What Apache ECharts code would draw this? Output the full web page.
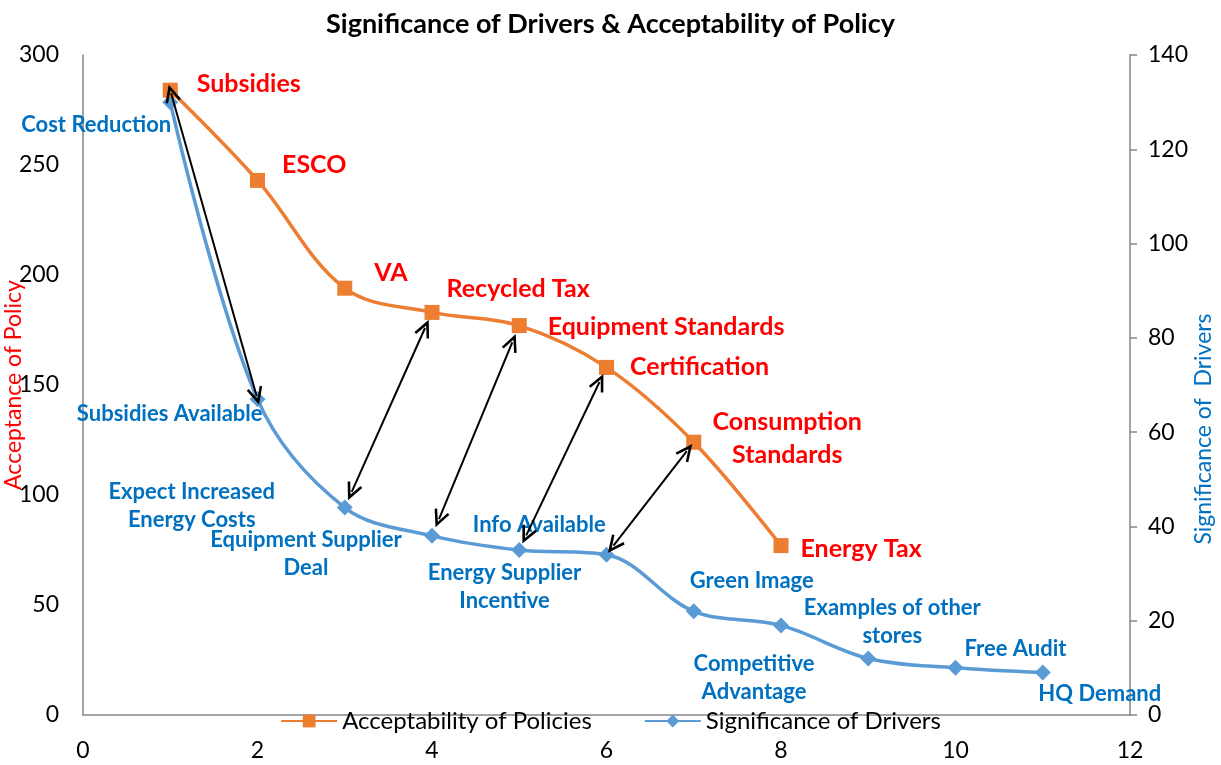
<!DOCTYPE html>
<html>
<head>
<meta charset="utf-8">
<script src="https://cdn.jsdelivr.net/npm/echarts@6/dist/echarts.min.js"></script>
<style>
  html, body { margin: 0; padding: 0; background: #fff; }
  #chart { width: 1221px; height: 765px; }
</style>
</head>
<body>
<div id="chart"></div>
<script>
// policies (left axis)
var policyX = [1, 2, 3, 4, 5, 6, 7, 8];
var policyValues = [284, 243, 194, 183, 177, 158, 124, 77];
var policyNames = ["Subsidies", "ESCO", "VA", "Recycled Tax", "Equipment Standards",
  "Certification", "Consumption\nStandards", "Energy Tax"];

// drivers (right axis)
var driverX = [1, 2, 3, 4, 5, 6, 7, 8, 9, 10, 11];
var driverValues = [130, 67, 44, 38, 35, 34, 22, 19, 12, 10, 9];
var driverNames = ["Cost Reduction", "Subsidies Available", "Expect Increased\nEnergy Costs",
  "Equipment Supplier\nDeal", "Info Available", "Energy Supplier\nIncentive", "Green Image",
  "Competitive\nAdvantage", "Examples of other\nstores", "Free Audit", "HQ Demand"];

// arrows: [policy index, driver index]
var arrowLinks = [[0, 1], [3, 2], [4, 3], [5, 4], [6, 5]];

var xTicks = [0, 2, 4, 6, 8, 10, 12];
var leftMax = 300, rightMax = 140;

// label placement (style only)
var policyLabelLayout = [
  { position: "right", offset: [14, -6] },
  { position: "right", offset: [12, -15] },
  { position: "right", offset: [17, -15] },
  { position: "right", offset: [2, -23] },
  { position: "right", offset: [16, 1] },
  { position: "right", offset: [11, 0] },
  { position: "right", align: "center", offset: [81, -4] },
  { position: "right", offset: [7, 3] }
];
var driverLabelLayout = [
  { position: "left", offset: [14, 23] },
  { position: "left", offset: [18, 15] },
  { position: "left", align: "center", offset: [-140, -2] },
  { position: "left", align: "center", offset: [-113, 18] },
  { position: "top", offset: [20, 2] },
  { position: "bottom", offset: [-102, -9] },
  { position: "top", offset: [58, -3] },
  { position: "bottom", offset: [-27, 11] },
  { position: "top", offset: [24, 4] },
  { position: "top", offset: [60, 8] },
  { position: "bottom", offset: [57, -6] }
];

var FONT = "Lato, 'Open Sans', sans-serif";

var policyData = policyX.map(function (x, i) {
  return {
    value: [x, policyValues[i]],
    name: policyNames[i],
    label: Object.assign({}, policyLabelLayout[i])
  };
});
var driverData = driverX.map(function (x, i) {
  return {
    value: [x, driverValues[i]],
    name: driverNames[i],
    label: Object.assign({}, driverLabelLayout[i])
  };
});

// arrows are drawn on the left axis, so driver values are rescaled
function trimPoint(a, b, t) {
  return [a[0] + (b[0] - a[0]) * t, a[1] + (b[1] - a[1]) * t];
}
var arrowData = arrowLinks.map(function (link, k) {
  var p = [policyX[link[0]], policyValues[link[0]]];
  var d = [driverX[link[1]], driverValues[link[1]] * leftMax / rightMax];
  var t = k === 0 ? 0.01 : 0.08;
  return [{ coord: trimPoint(d, p, t) }, { coord: trimPoint(p, d, t) }];
});

var chevron = "path://M0,0 L-7,15 L-5,16 L0,5.5 L5,16 L7,15 Z";

var chart = echarts.init(document.getElementById("chart"));
chart.setOption({
  animation: false,
  textStyle: { fontFamily: FONT },
  title: {
    text: "Significance of Drivers & Acceptability of Policy",
    left: "center",
    top: 6,
    textStyle: { fontFamily: FONT, fontSize: 27, fontWeight: "bold", color: "#000" }
  },
  legend: {
    bottom: 27,
    left: "center",
    itemWidth: 56,
    itemHeight: 16,
    itemGap: 52,
    textStyle: { fontFamily: FONT, fontSize: 24, color: "#000" },
    data: ["Acceptability of Policies", "Significance of Drivers"]
  },
  grid: { left: 83, right: 91, top: 55, bottom: 50, outerBoundsMode: "none" },
  xAxis: {
    type: "value",
    min: xTicks[0],
    max: xTicks[xTicks.length - 1],
    interval: 2,
    splitLine: { show: false },
    axisLine: { lineStyle: { color: "#868686", width: 1.5 } },
    axisTick: { show: false },
    axisLabel: { margin: 24, fontSize: 23, color: "#000", fontFamily: FONT }
  },
  yAxis: [
    {
      type: "value",
      min: 0,
      max: leftMax,
      interval: 50,
      name: "Acceptance of Policy",
      nameLocation: "middle",
      nameGap: 58,
      nameMoveOverlap: false,
      nameTextStyle: { color: "#ff0000", fontSize: 23, fontFamily: FONT },
      splitLine: { show: false },
      axisLine: { show: true, lineStyle: { color: "#868686", width: 1.5 } },
      axisTick: { show: false },
      axisLabel: { margin: 24, fontSize: 23, color: "#000", fontFamily: FONT }
    },
    {
      type: "value",
      min: 0,
      max: rightMax,
      interval: 20,
      position: "right",
      name: "Significance of  Drivers",
      nameLocation: "middle",
      nameGap: 62,
      nameMoveOverlap: false,
      nameTextStyle: { color: "#0070c0", fontSize: 23, fontFamily: FONT, padding: [0, 88, 0, 0] },
      splitLine: { show: false },
      axisLine: { show: true, lineStyle: { color: "#868686", width: 1.5 } },
      axisTick: { show: true, length: 7, lineStyle: { color: "#868686", width: 1.5 } },
      axisLabel: { margin: 18, fontSize: 23, color: "#000", fontFamily: FONT }
    }
  ],
  series: [
    {
      name: "Acceptability of Policies",
      type: "line",
      yAxisIndex: 0,
      smooth: 0.35,
      symbol: "rect",
      symbolSize: 15,
      color: "#ed7d31",
      lineStyle: { width: 3.5, color: "#ed7d31" },
      itemStyle: { color: "#ed7d31" },
      label: {
        show: true,
        formatter: "{b}",
        color: "#ff0000",
        fontSize: 25,
        fontWeight: "bold",
        fontFamily: FONT,
        lineHeight: 33
      },
      data: policyData,
      markLine: {
        silent: true,
        symbol: [chevron, chevron],
        symbolSize: [16, 18],
        label: { show: false },
        lineStyle: { color: "#000", width: 2, type: "solid" },
        emphasis: { disabled: true },
        data: arrowData
      },
      z: 3
    },
    {
      name: "Significance of Drivers",
      type: "line",
      yAxisIndex: 1,
      smooth: 0.35,
      symbol: "diamond",
      symbolSize: 16,
      color: "#5b9bd5",
      lineStyle: { width: 3.5, color: "#5b9bd5" },
      itemStyle: { color: "#5b9bd5" },
      label: {
        show: true,
        formatter: "{b}",
        color: "#0070c0",
        fontSize: 22,
        fontWeight: "bold",
        fontFamily: FONT,
        lineHeight: 28
      },
      data: driverData,
      z: 2
    }
  ]
});
</script>
</body>
</html>
